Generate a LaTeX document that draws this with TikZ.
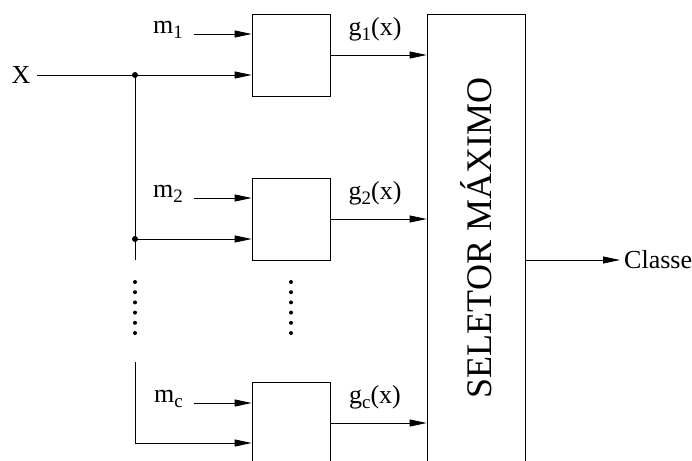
\documentclass[tikz,border=0pt]{standalone}
\usepackage{fontspec}
\setmainfont{Liberation Serif}
\usetikzlibrary{positioning,arrows.meta}
\tikzset{
  bloco/.style={draw,line width=0.8pt,minimum width=78pt,minimum height=82pt,inner sep=0pt},
  lbl/.style={font=\fontsize{26}{30}\selectfont,inner sep=3pt},
  seta/.style={-{Triangle[length=17pt,width=7pt]},line width=0.8pt},
  fio/.style={line width=0.8pt}
}
\newcommand{\lowidx}[1]{\raisebox{-0.45ex}{\fontsize{19}{19}\selectfont #1}}

\begin{document}
\begin{tikzpicture}[x=1pt,y=-1pt]
\useasboundingbox (0,0) rectangle (692,460);

% blocos
\node[bloco] (b1) at (291,55) {};
\node[bloco] (b2) at (291,219) {};
\node[bloco] (b3) at (291,423) {};
\node[draw,line width=0.8pt,minimum width=98pt,minimum height=448pt] (sel) at (476,238) {};
\node[rotate=90,font=\fontsize{36}{40}\selectfont] (seltxt) at (sel.center) {SELETOR MÁXIMO};

% entrada X
\node[lbl,inner xsep=6pt] (X) at (21,75) {X};
\coordinate (j1) at (135,75);
\coordinate (j2) at (135,239);
\coordinate (v1) at (135,260);
\coordinate (v2) at (135,362);
\coordinate (v3) at (135,443);
\draw[fio] (X) -- (j1) -- (v1);
\draw[seta] (j1) -- (j1 -| b1.west);
\draw[seta] (j2) -- (j2 -| b2.west);
\draw[seta] (v2) -- (v3) -- (v3 -| b3.west);
\fill (j1) circle (3pt) (j2) circle (3pt);

% reticencias
\foreach \k in {0,...,5}{
  \fill (135,282+10.2*\k) circle (2pt);
  \fill (291,282+10.2*\k) circle (2pt);
}

% entradas m
\foreach \i/\y/\s in {1/34/1,2/198/2,3/403/c}{
  \coordinate (a\i) at (194,\y);
  \node[lbl,left=8pt of a\i,yshift=4pt] (m\i) {m\lowidx{\s}};
  \draw[seta] (a\i) -- (a\i -| b\i.west);
}

% saidas g
\foreach \i/\s in {1/1,2/2,3/c}{
  \draw[seta] (b\i) -- (b\i -| sel.west);
  \node[lbl] (g\i) at ([xshift=84pt,yshift=26pt]b\i.center) {g\lowidx{\s}(x)};
}

% classe
\node[lbl,anchor=west,inner sep=4pt] (cls) at (620,260) {Classe};
\draw[seta] (sel.east |- cls) -- (cls);
\end{tikzpicture}
\end{document}
